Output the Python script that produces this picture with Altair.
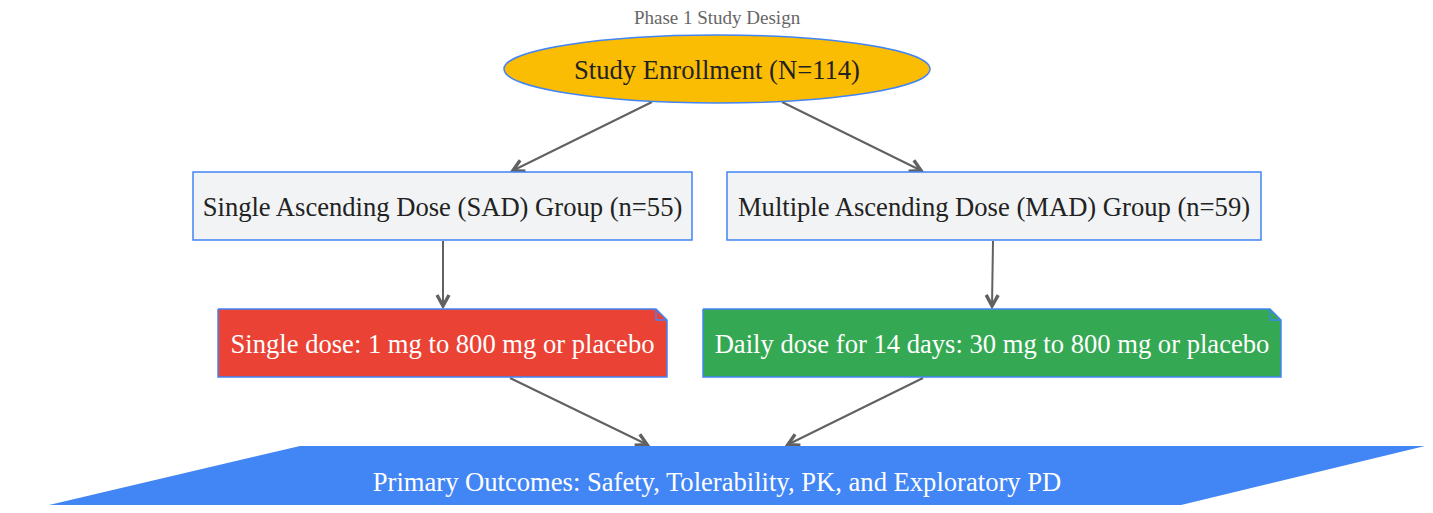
import altair as alt
import pandas as pd
import numpy as np

# ---------------- data (diagram layout, in pixels) ----------------
TITLE = "Phase 1 Study Design"
title_pos = (717, 18)

ell_label = "Study Enrollment (N=114)"
ell_center = (717, 69)
ell_rx, ell_ry = 213, 34

box_labels = ["Single Ascending Dose (SAD) Group (n=55)",
              "Multiple Ascending Dose (MAD) Group (n=59)"]
box_left = [193, 727]
box_right = [692, 1261]
box_top = [172, 172]
box_bottom = [240, 240]

note_labels = ["Single dose: 1 mg to 800 mg or placebo",
               "Daily dose for 14 days: 30 mg to 800 mg or placebo"]
note_left = [218, 703]
note_right = [667, 1281]
note_top = [309, 309]
note_bottom = [377, 377]
note_colors = ["#EA4335", "#34A853"]
FOLD = 11

out_label = "Primary Outcomes: Safety, Tolerability, PK, and Exploratory PD"
# parallelogram: top edge y=446 from x=300 to 1425, bottom edge y=513 from x=15 to 1148
out_x = [15, 300, 1148, 1425]
out_top = [513, 446, 446, 446]
out_bottom = [513, 513, 513, 446]

edge_x1 = [652, 782, 443, 993, 510, 923]
edge_y1 = [102, 102, 241, 241, 378, 378]
edge_x2 = [512, 922, 443, 992, 648, 787]
edge_y2 = [171, 171, 307, 307, 445, 445]

BLUE = "#4285F4"
EDGE = "#616161"
FONT = "Liberation Serif"
FS = 26.6

# ---------------- tables ----------------
xs = alt.Scale(domain=[8, 1425], nice=False, zero=False)
ys = alt.Scale(domain=[8, 505], nice=False, zero=False, reverse=True)

def X(f):
    return alt.X(f, type="quantitative", scale=xs, axis=None)

def Y(f):
    return alt.Y(f, type="quantitative", scale=ys, axis=None, stack=None)

# notes (rectangle with cut top-right corner), drawn as vertical areas
note_line_rows = []
note_areas = []
for i in range(len(note_labels)):
    l, r, t, b = note_left[i], note_right[i], note_top[i], note_bottom[i]
    rows = [dict(x=xx, yt=yt, yb=yb) for (xx, yt, yb) in [(l, t, b), (r - FOLD, t, b), (r, t + FOLD, b)]]
    note_areas.append(
        alt.Chart(pd.DataFrame(rows)).mark_area(orient="vertical", opacity=1, color=note_colors[i]).encode(
            x=alt.X("x", type="quantitative", scale=xs, axis=None),
            y=Y("yt"), y2="yb:Q"))
    outline = [(l, t), (r - FOLD, t), (r, t + FOLD), (r, b), (l, b), (l, t)]
    for k, (xx, yy) in enumerate(outline):
        note_line_rows.append(dict(id=f"o{i}", seq=k, x=xx, y=yy))
    fold = [(r - FOLD, t), (r - FOLD, t + FOLD), (r, t + FOLD)]
    for k, (xx, yy) in enumerate(fold):
        note_line_rows.append(dict(id=f"f{i}", seq=k, x=xx, y=yy))
note_line_df = pd.DataFrame(note_line_rows)

out_df = pd.DataFrame(dict(x=out_x, yt=out_top, yb=out_bottom))

box_df = pd.DataFrame(dict(l=box_left, r=box_right, t=box_top, b=box_bottom))

edges = pd.DataFrame(dict(x1=edge_x1, y1=edge_y1, x2=edge_x2, y2=edge_y2))
dx = edges.x2 - edges.x1
dy = edges.y2 - edges.y1
edges["angle"] = (np.degrees(np.arctan2(-dx, dy)) + 360) % 360

ell_df = pd.DataFrame(dict(x=[ell_center[0]], y=[ell_center[1]]))

text_df = pd.DataFrame(dict(
    label=[ell_label] + box_labels + note_labels + [out_label],
    x=[ell_center[0]] + [(a + b) / 2 for a, b in zip(box_left, box_right)]
      + [(a + b) / 2 for a, b in zip(note_left, note_right)] + [717],
    y=[ell_center[1]] + [(a + b) / 2 for a, b in zip(box_top, box_bottom)]
      + [(a + b) / 2 for a, b in zip(note_top, note_bottom)] + [481],
    color=["#222222", "#222222", "#222222", "#ffffff", "#ffffff", "#ffffff"],
))
title_df = pd.DataFrame(dict(label=[TITLE], x=[title_pos[0]], y=[title_pos[1]]))

# ---------------- marks ----------------
k = 0.5523
r = ell_ry / ell_rx
ell_path = (f"M-1,0C-1,{-k*r:.4f},{-k:.4f},{-r:.4f},0,{-r:.4f}"
            f"C{k:.4f},{-r:.4f},1,{-k*r:.4f},1,0"
            f"C1,{k*r:.4f},{k:.4f},{r:.4f},0,{r:.4f}"
            f"C{-k:.4f},{r:.4f},-1,{k*r:.4f},-1,0Z")

edge_lines = alt.Chart(edges).mark_rule(color=EDGE, strokeWidth=2).encode(
    x=X("x1"), y=Y("y1"), x2="x2:Q", y2="y2:Q")

heads = alt.Chart(edges).mark_point(
    shape="M-0.5,-1L0,-0.08L0.5,-1", filled=False, stroke=EDGE, strokeWidth=3.4,
    size=576, opacity=1, strokeJoin="miter").encode(
    x=X("x2"), y=Y("y2"), angle=alt.Angle("angle:Q", scale=None))

ellipse = alt.Chart(ell_df).mark_point(
    shape=ell_path, size=(2 * ell_rx) ** 2, filled=True, fill="#FBBC04",
    stroke=BLUE, strokeWidth=1.5, opacity=1).encode(x=X("x"), y=Y("y"))

boxes = alt.Chart(box_df).mark_rect(fill="#F1F3F4", stroke=BLUE, strokeWidth=1.5).encode(
    x=X("l"), x2="r:Q", y=Y("t"), y2="b:Q")

note_lines = alt.Chart(note_line_df).mark_line(color=BLUE, strokeWidth=1.5).encode(
    x=X("x"), y=Y("y"), detail="id:N", order=alt.Order("seq:Q"))

outcome = alt.Chart(out_df).mark_area(orient="vertical", color=BLUE, opacity=1).encode(
    x=X("x"), y=Y("yt"), y2="yb:Q")

texts = alt.Chart(text_df).mark_text(font=FONT, fontSize=FS, baseline="middle", align="center",
                                     dy=2).encode(
    x=X("x"), y=Y("y"), text="label:N", color=alt.Color("color:N", scale=None))

title = alt.Chart(title_df).mark_text(font=FONT, fontSize=19, color="#666666",
                                      baseline="middle", align="center").encode(
    x=X("x"), y=Y("y"), text="label:N")

chart = alt.layer(edge_lines, heads, ellipse, boxes, *note_areas, note_lines, outcome, texts, title).properties(
    width=1417, height=497, padding=0, autosize="none", background="white"
).configure_view(stroke=None)

chart.save("out.html", embed_options={"renderer": "svg", "actions": False})
